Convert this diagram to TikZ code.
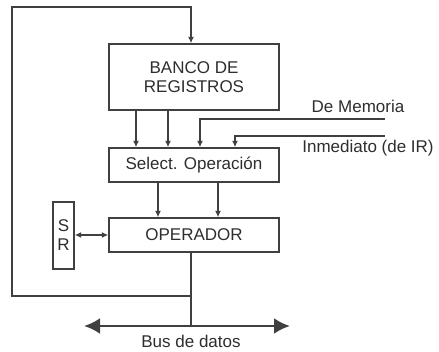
\documentclass[tikz,border=0pt]{standalone}
\usepackage{fontspec}
\setmainfont{Liberation Sans}
\usetikzlibrary{arrows.meta,positioning}
\definecolor{lineGray}{HTML}{404040}
\definecolor{textGray}{HTML}{2E2E2E}

\begin{document}
\begin{tikzpicture}[x=1pt, y=-1pt, color=lineGray, >={Latex[length=6.5pt,width=6pt]},
    block/.style={draw, line width=1.4pt, inner sep=0pt, minimum width=170pt,
      align=center, text=textGray, font=\fontsize{17}{19}\selectfont},
    wire/.style={line width=1.4pt},
    label/.style={text=textGray, inner sep=0pt, font=\fontsize{17}{19}\selectfont}]
    \fill[white] (0,0) rectangle (439,352);
    \useasboundingbox (0,0) rectangle (439,352);

    % ---------- blocks ----------
    \node[block, minimum height=66pt] (banco) at (194,77) {BANCO DE\\REGISTROS};
    \node[block, minimum height=34pt] (select) at (194,165) {Select. Operación};
    \node[block, minimum height=34pt] (oper) at (194,235) {OPERADOR};
    \node[block, minimum width=21pt, minimum height=67pt] (sr) at (63.5,235.5) {S\\R};

    \coordinate (tap) at (191,296);
    \coordinate (bus) at (191,326);
    \coordinate (busL) at (84,326);
    \coordinate (busR) at (290,326);
    \coordinate (mem) at (385,119);
    \coordinate (imm) at (385,136);

    % ---------- connections ----------
    \foreach \dx in {-58,-26}
        \draw[wire,->] ([xshift=\dx pt]banco.south) -- ([xshift=\dx pt]select.north);
    \draw[wire,->] (mem) -| ([xshift=6pt]select.north);
    \draw[wire,->] (imm) -| ([xshift=41pt]select.north);
    \foreach \dx in {-36,24}
        \draw[wire,->] ([xshift=\dx pt]select.south) -- ([xshift=\dx pt]oper.north);
    \draw[wire,<->] (sr.east |- oper.west) -- (oper.west);

    \draw[wire] (oper.south -| bus) -- (bus);
    \draw[wire,->] (tap) -- (12,296) -- (12,7) -- (191,7) -- (banco.north -| tap);

    % ---------- bus ----------
    \draw[line width=2.8pt, {Latex[length=16pt,width=16pt]}-{Latex[length=16pt,width=16pt]}] (busL) -- (busR);

    \node[label] (memlbl) at (358,106) {De Memoria};
    \node[label] (immlbl) at (368,148) {Inmediato (de IR)};
    \node[label] (buslbl) at (191,341) {Bus de datos};
\end{tikzpicture}
\end{document}
